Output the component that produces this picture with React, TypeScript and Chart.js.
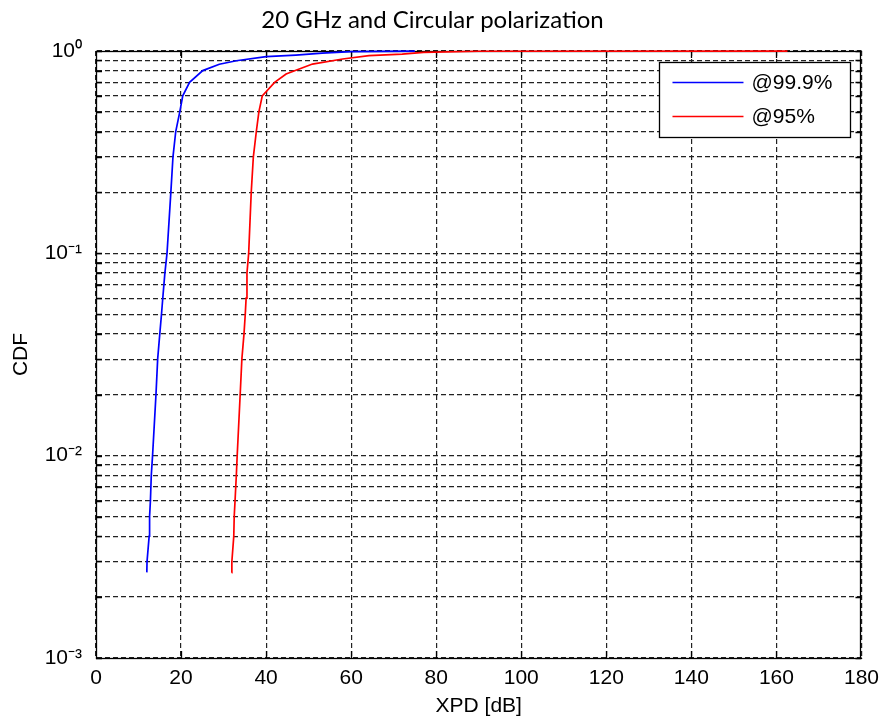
import { useEffect, useRef } from 'react';
import { Chart, registerables } from 'chart.js';

Chart.register(...registerables);

const TITLE = '20 GHz and Circular polarization';
const X_LABEL = 'XPD [dB]';
const Y_LABEL = 'CDF';
const SERIES_LABELS = ['@99.9%', '@95%'];
const SERIES_COLORS = ['#0000ff', '#ff0000'];

// @99.9% series
const xpd999 = [11.95, 12.0, 12.5, 12.6, 12.8, 13.0, 13.3, 14.1, 14.5, 15.0, 15.4, 15.7, 16.2, 16.7, 17.6, 18.1, 18.75, 19.7, 20.4, 22.0, 25.1, 29.0, 33.0, 40.0, 47.0, 53.2, 60.0, 75.0];
const cdf999 = [0.00265, 0.003, 0.004, 0.005, 0.006, 0.008, 0.01, 0.02, 0.03, 0.04, 0.05, 0.06, 0.08, 0.1, 0.2, 0.3, 0.4, 0.5, 0.6, 0.7, 0.8, 0.86, 0.895, 0.937, 0.955, 0.977, 0.993, 0.999];

// @95% series
const xpd95 = [31.9, 31.95, 32.4, 32.5, 32.7, 33.0, 33.2, 33.9, 34.3, 34.8, 35.1, 35.3, 35.5, 35.9, 36.5, 37.0, 37.7, 38.3, 39.1, 42.0, 44.7, 50.9, 58.0, 64.2, 72.0, 77.0, 90.0, 162.6];
const cdf95 = [0.00264, 0.003, 0.004, 0.005, 0.006, 0.008, 0.01, 0.02, 0.03, 0.04, 0.05, 0.06, 0.08, 0.1, 0.2, 0.3, 0.4, 0.5, 0.6, 0.7, 0.77, 0.862, 0.913, 0.948, 0.965, 0.985, 0.997, 0.999];

const X_MIN = 0;
const X_MAX = 180;
const X_STEP = 20;
const Y_DECADES = [-3, -2, -1, 0];

const SUP: Record<string, string> = {
  '0': '\u2070', '1': '\u00b9', '2': '\u00b2', '3': '\u00b3', '4': '\u2074',
  '5': '\u2075', '6': '\u2076', '7': '\u2077', '8': '\u2078', '9': '\u2079', '-': '\u207b',
};
const sup = (n: number) => String(n).split('').map((c) => SUP[c] || c).join('');

const AXIS_FONT = '"Liberation Sans", Arial, sans-serif';
const TITLE_FONT = 'Lato, "Open Sans", sans-serif';
const GRID_COLOR = '#222';

export default function App() {
  const ref = useRef<HTMLCanvasElement>(null);

  useEffect(() => {
    document.body.style.margin = '0';
    const canvas = ref.current;
    if (!canvas) return;

    const logTicks: number[] = [];
    for (let i = 0; i < Y_DECADES.length - 1; i++) {
      for (let m = 1; m <= 9; m++) logTicks.push(m * Math.pow(10, Y_DECADES[i]));
    }
    logTicks.push(Math.pow(10, Y_DECADES[Y_DECADES.length - 1]));

    const framePlugin = {
      id: 'matlabFrame',
      beforeDatasetsDraw(chart: any) {
        const { ctx, chartArea: a, scales } = chart;
        ctx.save();
        ctx.strokeStyle = '#000';
        ctx.lineWidth = 1.3;
        ctx.setLineDash([]);
        ctx.strokeRect(Math.round(a.left) + 0.5, Math.round(a.top) + 0.5, Math.round(a.right - a.left) - 1, Math.round(a.bottom - a.top));
        ctx.beginPath();
        const xs = scales.x;
        for (let v = X_MIN + X_STEP; v < X_MAX; v += X_STEP) {
          const px = Math.round(xs.getPixelForValue(v)) + 0.5;
          ctx.moveTo(px, a.bottom);
          ctx.lineTo(px, a.bottom - 7);
          ctx.moveTo(px, a.top);
          ctx.lineTo(px, a.top + 7);
        }
        const ys = scales.y;
        logTicks.forEach((v) => {
          const py = Math.round(ys.getPixelForValue(v)) + 0.5;
          ctx.moveTo(a.left, py);
          ctx.lineTo(a.left + 6, py);
          ctx.moveTo(a.right, py);
          ctx.lineTo(a.right - 6, py);
        });
        ctx.stroke();
        ctx.restore();
      },
      afterDraw(chart: any) {
        const { ctx, chartArea: a } = chart;
        const boxRight = a.right - 11;
        const boxLeft = boxRight - 191;
        const boxTop = a.top + 11;
        const boxBottom = boxTop + 75;
        ctx.save();
        ctx.fillStyle = '#fff';
        ctx.fillRect(boxLeft, boxTop, boxRight - boxLeft, boxBottom - boxTop);
        ctx.strokeStyle = '#000';
        ctx.lineWidth = 1.3;
        ctx.setLineDash([]);
        ctx.strokeRect(Math.round(boxLeft) + 0.5, Math.round(boxTop) + 0.5, Math.round(boxRight - boxLeft), Math.round(boxBottom - boxTop));
        ctx.font = '21px ' + AXIS_FONT;
        ctx.textBaseline = 'middle';
        ctx.textAlign = 'left';
        chart.data.datasets.forEach((ds: any, i: number) => {
          const y = boxTop + 20 + i * 34;
          ctx.strokeStyle = ds.borderColor;
          ctx.lineWidth = 1.5;
          ctx.beginPath();
          ctx.moveTo(boxLeft + 13, Math.round(y) + 0.5);
          ctx.lineTo(boxLeft + 84, Math.round(y) + 0.5);
          ctx.stroke();
          ctx.fillStyle = '#000';
          ctx.fillText(ds.label, boxLeft + 92, y + 1);
        });
        ctx.restore();
      },
    };

    const chart = new Chart(canvas, {
      type: 'line',
      data: {
        datasets: [
          {
            label: SERIES_LABELS[0],
            data: xpd999.map((x, i) => ({ x, y: cdf999[i] })),
            borderColor: SERIES_COLORS[0],
            backgroundColor: SERIES_COLORS[0],
            borderWidth: 1.7,
            pointRadius: 0,
            tension: 0,
            clip: 4,
          },
          {
            label: SERIES_LABELS[1],
            data: xpd95.map((x, i) => ({ x, y: cdf95[i] })),
            borderColor: SERIES_COLORS[1],
            backgroundColor: SERIES_COLORS[1],
            borderWidth: 1.7,
            pointRadius: 0,
            tension: 0,
            clip: 4,
          },
        ],
      },
      options: {
        responsive: false,
        animation: false,
        layout: { padding: { left: 0, right: 22, top: 0, bottom: 0 } },
        plugins: {
          legend: { display: false },
          tooltip: { enabled: false },
          title: {
            display: true,
            text: TITLE,
            color: '#000',
            font: { family: TITLE_FONT, size: 24, weight: 'normal' },
            padding: { top: 5.6, bottom: 16.6 },
          },
        },
        scales: {
          x: {
            type: 'linear',
            min: X_MIN,
            max: X_MAX,
            afterFit: (s: any) => { s.height = 62; },
            ticks: {
              stepSize: X_STEP,
              color: '#000',
              font: { family: AXIS_FONT, size: 21 },
              padding: 8,
              maxRotation: 0,
              minRotation: 0,
            },
            grid: { color: GRID_COLOR, lineWidth: 1.2, drawTicks: false },
            border: { display: true, color: '#000', width: 1, dash: [5, 3] },
            title: {
              display: true,
              text: X_LABEL,
              color: '#000',
              font: { family: AXIS_FONT, size: 21 },
              padding: { top: 0, bottom: 1 },
            },
          },
          y: {
            type: 'logarithmic',
            min: Math.pow(10, Y_DECADES[0]),
            max: Math.pow(10, Y_DECADES[Y_DECADES.length - 1]),
            afterFit: (s: any) => { s.width = 96; },
            afterBuildTicks: (s: any) => { s.ticks = logTicks.map((value) => ({ value })); },
            ticks: {
              autoSkip: false,
              color: '#000',
              font: { family: AXIS_FONT, size: 21 },
              padding: 14,
              callback: (v: any) => {
                const l = Math.log10(Number(v));
                const r = Math.round(l);
                return Math.abs(l - r) < 1e-9 ? '10' + sup(r) : '';
              },
            },
            grid: { color: GRID_COLOR, lineWidth: 1.2, drawTicks: false },
            border: { display: true, color: '#000', width: 1, dash: [5, 3] },
            title: {
              display: true,
              text: Y_LABEL,
              color: '#000',
              font: { family: AXIS_FONT, size: 21 },
              padding: { top: 9, bottom: 0 },
            },
          },
        },
      } as any,
      plugins: [framePlugin],
    });

    return () => chart.destroy();
  }, []);

  return <canvas ref={ref} width={887} height={720} style={{ display: 'block' }} />;
}
